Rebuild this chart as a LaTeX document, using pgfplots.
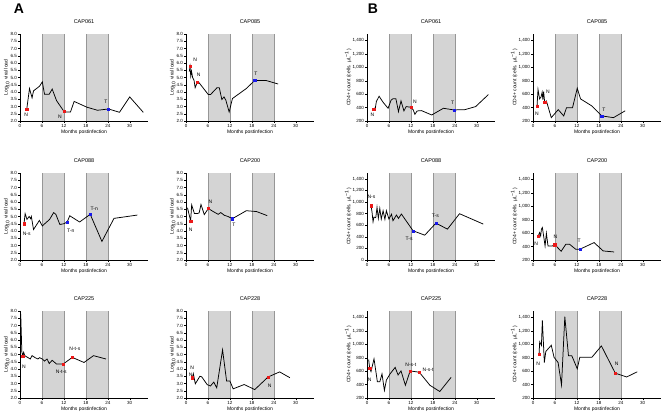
\documentclass[border=0pt]{standalone}
\usepackage{pgfplots}
\pgfplotsset{compat=1.18}
\usepackage{fontspec}
\setmainfont{Liberation Sans}
\definecolor{shadegray}{RGB}{212,212,212}
\definecolor{edgegray}{RGB}{150,150,150}
\definecolor{mred}{RGB}{235,25,25}
\definecolor{mblue}{RGB}{25,25,235}
\newcommand{\lab}{\fontsize{5}{6}\selectfont}
\pgfplotsset{
 panel/.style={scale only axis, width=128pt, height=87pt, xmin=0, xmax=35,
  axis x line*=bottom, axis y line*=left, xtick={0,6,12,18,24,30},
  tick align=outside, major tick length=2pt,
  tick style={black, line width=0.4pt}, axis line style={line width=0.6pt},
  ticklabel style={font=\fontsize{4.5}{5}\selectfont, inner sep=1pt},
  /pgf/number format/assume math mode=true,
  label style={font=\fontsize{5}{6}\selectfont},
  title style={font=\fontsize{5.5}{6}\selectfont, yshift=1pt},
  xlabel={Months postinfection}, xlabel style={yshift=2pt},
  ylabel style={yshift=-1pt, inner sep=1pt},
  clip=false, anchor=south west},
 vl/.style={panel, ymin=2, ymax=8, ytick={2,2.5,...,8},
  yticklabel style={/pgf/number format/.cd, fixed, fixed zerofill, precision=1},
  ylabel={Log\textsubscript{10} viral load}},
 cd/.style={panel, ymin=200, ymax=1500, ytick={200,400,...,1400},
  yticklabel style={/pgf/number format/.cd, 1000 sep={,}},
  ylabel={CD4+ count (cells. µL\textsuperscript{−1})}},
 vline/.style={black, line width=0.75pt, no marks},
 nmark/.style={only marks, mark=square*, mark size=1.1pt, color=mred},
 tmark/.style={only marks, mark=square*, mark size=1.1pt, color=mblue},
}
\newcommand{\bands}[2]{%
 \addplot[fill=shadegray, draw=none, forget plot] coordinates {(6,#1)(12,#1)(12,#2)(6,#2)} -- cycle;
 \addplot[fill=shadegray, draw=none, forget plot] coordinates {(18,#1)(24,#1)(24,#2)(18,#2)} -- cycle;
 \addplot[edgegray, line width=0.3pt, forget plot] coordinates {(6,#1)(6,#2)};
 \addplot[edgegray, line width=0.3pt, forget plot] coordinates {(12,#1)(12,#2)};
 \addplot[edgegray, line width=0.3pt, forget plot] coordinates {(18,#1)(18,#2)};
 \addplot[edgegray, line width=0.3pt, forget plot] coordinates {(24,#1)(24,#2)};
}
\begin{document}
\begin{tikzpicture}
\useasboundingbox (0,0) rectangle (662pt,417pt);
\node[font=\bfseries\fontsize{14}{14}\selectfont] at (19pt,408pt) {A};
\node[font=\bfseries\fontsize{14}{14}\selectfont] at (373pt,408pt) {B};

% ---------- Row 1 ----------
\begin{axis}[vl, at={(20pt,296pt)}, title={CAP061}]
\bands{2}{8}
\addplot[vline] coordinates {(1.85,2.83) (2.6,4.24) (3.3,3.6) (3.7,4.08) (5.35,4.4) (6.1,4.7) (6.7,3.85) (8.0,3.85) (8.8,4.2) (10.0,3.4) (12.0,2.67) (12.6,2.62) (13.8,2.62) (14.8,3.35) (18.3,2.95) (21.2,2.74) (24.2,2.83) (27.2,2.6) (30.0,3.66) (33.7,2.6)};
\addplot[nmark] coordinates {(1.85,2.83) (12.0,2.67)};
\addplot[tmark] coordinates {(24.2,2.83)};
\node[font=\lab] at (axis cs:1.7,2.4) {N};
\node[font=\lab] at (axis cs:10.9,2.32) {N};
\node[font=\lab] at (axis cs:23.5,3.3) {T};
\end{axis}

\begin{axis}[vl, at={(186pt,296pt)}, title={CAP085}]
\bands{2}{8}
\addplot[vline] coordinates {(0.9,5.4) (1.1,5.76) (1.3,5.1) (1.5,5.45) (1.8,5.0) (2.2,4.8) (2.5,4.3) (3.1,4.68) (3.6,4.63) (6.1,3.82) (6.7,3.82) (8.5,4.3) (9.1,4.3) (9.8,3.48) (10.4,3.66) (10.9,3.43) (11.8,2.62) (12.7,3.55) (16.5,4.24) (18.8,4.8) (21.8,4.8) (25.2,4.55)};
\addplot[nmark] coordinates {(1.1,5.76) (3.1,4.68)};
\addplot[tmark] coordinates {(18.8,4.8)};
\node[font=\lab] at (axis cs:2.5,6.2) {N};
\node[font=\lab] at (axis cs:3.5,5.16) {N};
\node[font=\lab] at (axis cs:19.1,5.25) {T};
\end{axis}

\begin{axis}[cd, at={(367pt,296pt)}, title={CAP061}]
\bands{200}{1500}
\addplot[vline] coordinates {(1.83,380) (2.3,400) (2.56,490) (3.3,570) (4.4,480) (5.76,390) (6.6,513) (7.1,533) (7.9,533) (8.6,340) (9.3,500) (10.1,350) (10.7,415) (12.0,405) (12.6,370) (13.1,300) (13.7,350) (14.9,355) (17.7,290) (20.9,390) (23.8,365) (26.8,370) (29.7,415) (33.2,595)};
\addplot[nmark] coordinates {(1.83,380) (12.0,405)};
\addplot[tmark] coordinates {(23.8,365)};
\node[font=\lab] at (axis cs:1.5,287) {N};
\node[font=\lab] at (axis cs:13.1,482) {N};
\node[font=\lab] at (axis cs:23.4,467) {T};
\end{axis}

\begin{axis}[cd, at={(533pt,296pt)}, title={CAP085}]
\bands{200}{1500}
\addplot[vline] coordinates {(1.1,418) (1.37,670) (1.8,530) (2.2,560) (2.5,630) (2.7,520) (2.9,640) (3.2,478) (3.66,500) (5.0,250) (6.9,370) (8.4,275) (9.15,397) (10.8,397) (12.1,690) (13.0,530) (16.0,428) (18.8,276) (22.0,250) (25.2,352)};
\addplot[nmark] coordinates {(1.1,418) (3.2,478)};
\addplot[tmark] coordinates {(18.8,276)};
\node[font=\lab] at (axis cs:1.1,311) {N};
\node[font=\lab] at (axis cs:4.1,630) {N};
\node[font=\lab] at (axis cs:19.4,362) {T};
\end{axis}

% ---------- Row 2 ----------
\begin{axis}[vl, at={(20pt,157pt)}, title={CAP088}]
\bands{2}{8}
\addplot[vline] coordinates {(1.1,4.5) (1.4,5.2) (1.9,4.8) (2.5,5.0) (2.9,4.85) (3.1,5.0) (3.7,4.1) (5.3,4.73) (6.1,4.35) (8.1,4.8) (9.2,5.27) (9.8,5.15) (10.9,4.45) (12.0,4.5) (12.9,4.62) (13.6,5.05) (16.3,4.62) (19.2,5.15) (22.4,3.28) (25.7,4.87) (32.1,5.1)};
\addplot[nmark] coordinates {(1.1,4.5)};
\addplot[tmark] coordinates {(12.9,4.62) (19.2,5.15)};
\node[font=\lab] at (axis cs:1.85,3.8) {N-s};
\node[font=\lab] at (axis cs:13.9,4.03) {T-n};
\node[font=\lab] at (axis cs:20.3,5.5) {T-n};
\end{axis}

\begin{axis}[vl, at={(186pt,157pt)}, title={CAP200}]
\bands{2}{8}
\addplot[vline] coordinates {(0.4,5.6) (1.27,4.7) (1.55,5.8) (2.3,5.2) (3.1,5.2) (3.6,5.25) (4.1,5.83) (5.0,5.13) (6.1,5.55) (7.45,5.34) (8.8,5.15) (9.5,5.27) (10.5,5.08) (11.5,5.0) (12.7,4.85) (16.5,5.4) (19.3,5.34) (22.2,5.06)};
\addplot[nmark] coordinates {(1.27,4.7) (6.1,5.55)};
\addplot[tmark] coordinates {(12.7,4.85)};
\node[font=\lab] at (axis cs:1.3,4.1) {N};
\node[font=\lab] at (axis cs:6.7,6.0) {N};
\node[font=\lab] at (axis cs:13.1,4.4) {T};
\end{axis}

\begin{axis}[cd, ymin=0, ytick={0,200,...,1400}, at={(367pt,157pt)}, title={CAP088}]
\bands{0}{1500}
\addplot[vline] coordinates {(1.1,937) (1.37,830) (1.65,660) (1.9,740) (2.4,730) (2.74,908) (3.1,717) (3.5,890) (3.9,705) (4.4,850) (4.9,700) (5.3,850) (6.0,705) (6.7,790) (7.1,677) (8.05,775) (8.6,717) (9.4,793) (12.6,503) (15.8,428) (18.85,636) (22.0,532) (25.3,798) (31.8,619)};
\addplot[nmark] coordinates {(1.1,937)};
\addplot[tmark] coordinates {(12.6,503) (18.85,636)};
\node[font=\lab] at (axis cs:1.2,1093) {N-s};
\node[font=\lab] at (axis cs:11.5,359) {T-s};
\node[font=\lab] at (axis cs:18.7,764) {T-s};
\end{axis}

\begin{axis}[cd, at={(533pt,157pt)}, title={CAP200}]
\bands{200}{1500}
\addplot[vline] coordinates {(1.37,550) (1.8,610) (2.1,560) (2.3,660) (2.56,685) (2.9,560) (3.3,410) (3.66,600) (4.1,410) (5.3,410) (5.95,430) (7.7,330) (8.97,435) (10.0,435) (11.7,360) (12.8,360) (16.7,460) (19.2,335) (22.2,320)};
\addplot[nmark] coordinates {(1.37,550) (5.95,430)};
\addplot[tmark] coordinates {(12.8,360)};
\node[font=\lab] at (axis cs:0.9,435) {N};
\node[font=\lab] at (axis cs:6.1,545) {N};
\node[font=\lab] at (axis cs:12.6,485) {T};
\end{axis}

% ---------- Row 3 ----------
\begin{axis}[vl, at={(20pt,19pt)}, title={CAP225}]
\bands{2}{8}
\addplot[vline] coordinates {(0.2,7.8) (0.5,5.2) (0.74,4.87) (1.0,5.15) (1.3,4.92) (2.8,4.69) (3.3,4.92) (4.15,4.78) (4.9,4.69) (5.35,4.78) (6.1,4.69) (6.7,4.55) (7.4,4.69) (8.0,4.38) (8.8,4.6) (10.0,4.34) (10.9,4.34) (11.8,4.34) (14.3,4.8) (17.5,4.45) (20.1,4.92) (23.5,4.69)};
\addplot[nmark] coordinates {(0.74,4.87) (11.8,4.34) (14.3,4.8)};
\node[font=\lab] at (axis cs:1.1,4.15) {N};
\node[font=\lab] at (axis cs:11.3,3.8) {N-t-s};
\node[font=\lab] at (axis cs:15.0,5.36) {N-t-s};
\end{axis}

\begin{axis}[vl, at={(186pt,19pt)}, title={CAP228}]
\bands{2}{8}
\addplot[vline] coordinates {(1.73,3.4) (2.0,3.68) (2.55,2.98) (3.8,3.5) (4.3,3.46) (5.8,2.92) (6.7,2.83) (7.6,3.1) (8.4,2.7) (10.0,5.32) (11.1,3.17) (12.0,3.17) (12.9,2.63) (15.9,2.93) (18.8,2.58) (22.45,3.45) (25.6,3.8) (28.4,3.4)};
\addplot[nmark] coordinates {(1.73,3.4) (22.45,3.45)};
\node[font=\lab] at (axis cs:1.7,4.1) {N};
\node[font=\lab] at (axis cs:1.3,3.6) {N};
\node[font=\lab] at (axis cs:22.9,2.86) {N};
\end{axis}

\begin{axis}[cd, at={(367pt,19pt)}, title={CAP225}]
\bands{200}{1500}
\addplot[vline] coordinates {(0.45,775) (0.73,646) (1.1,595) (1.92,785) (2.84,441) (3.5,441) (4.1,560) (4.76,313) (5.3,467) (6.3,560) (7.7,657) (8.5,544) (9.3,605) (10.5,390) (11.8,605) (14.3,585) (17.2,390) (19.9,297) (23.0,508)};
\addplot[nmark] coordinates {(0.73,646) (11.8,605) (14.3,585)};
\node[font=\lab] at (axis cs:0.7,467) {N};
\node[font=\lab] at (axis cs:12.0,690) {N-s-t};
\node[font=\lab] at (axis cs:16.7,620) {N-s-t};
\end{axis}

\begin{axis}[cd, at={(533pt,19pt)}, title={CAP228}]
\bands{200}{1500}
\addplot[vline] coordinates {(1.65,849) (1.83,1040) (2.3,988) (2.56,1359) (3.1,730) (3.5,895) (5.0,988) (5.76,808) (6.86,730) (7.8,396) (8.7,1415) (9.7,833) (10.6,833) (12.1,637) (12.8,808) (16.1,808) (18.7,978) (22.5,571) (25.6,514) (28.5,591)};
\addplot[nmark] coordinates {(1.65,849) (22.5,571)};
\node[font=\lab] at (axis cs:1.4,718) {N};
\node[font=\lab] at (axis cs:22.9,718) {N};
\end{axis}
\end{tikzpicture}
\end{document}
